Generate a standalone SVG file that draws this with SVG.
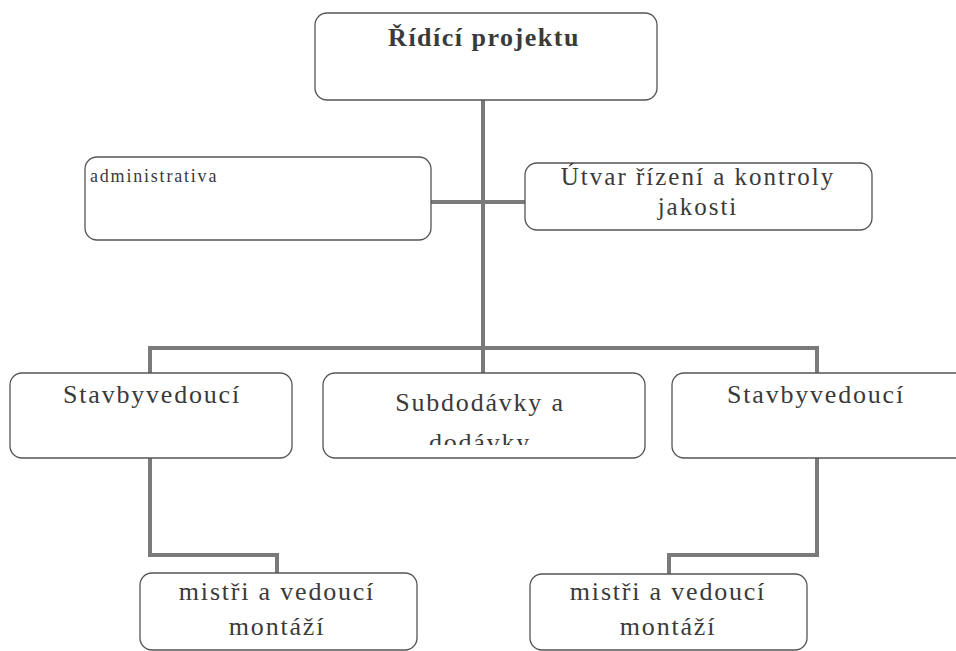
<svg xmlns="http://www.w3.org/2000/svg" width="956" height="651" viewBox="0 0 956 651">
<style>
.box{fill:#fff;stroke:#555;stroke-width:1.3;}
.t{font-family:"Liberation Serif","Times New Roman",serif;font-size:26px;fill:#3a3a3a;letter-spacing:1.8px;text-anchor:middle;}
.b{font-weight:bold;letter-spacing:1.5px;}
.s{font-size:18px;text-anchor:start;letter-spacing:1.8px;}
.u{font-size:25px;letter-spacing:2px;}
.c{fill:none;stroke:#7a7a7a;stroke-width:4;}
</style>
<defs>
<clipPath id="clipSub"><rect x="323" y="373" width="322" height="72"/></clipPath>
</defs>
<g id="connectors">
<path class="c" d="M483 100 V373"/>
<path class="c" d="M431 202 H525"/>
<path class="c" d="M150 373 V348 H817 V373"/>
<path class="c" d="M150 458 V555 H277 V573"/>
<path class="c" d="M817 458 V555 H669 V574"/>
</g>
<g id="n-ridici">
<rect class="box" x="315" y="13" width="342" height="87" rx="12"/>
<text class="t b" x="484" y="46">Řídící projektu</text>
</g>
<g id="n-admin">
<rect class="box" x="85" y="157" width="346" height="83" rx="12"/>
<text class="t s" x="90" y="182">administrativa</text>
</g>
<g id="n-utvar">
<rect class="box" x="525" y="163" width="347" height="67" rx="12"/>
<text class="t u" x="698" y="185">Útvar řízení a kontroly</text>
<text class="t u" x="698" y="215">jakosti</text>
</g>
<g id="n-stav1">
<rect class="box" x="10" y="373" width="282" height="85" rx="12"/>
<text class="t" x="152" y="403">Stavbyvedoucí</text>
</g>
<g id="n-subdod">
<rect class="box" x="323" y="373" width="322" height="85" rx="12"/>
<g clip-path="url(#clipSub)">
<text class="t" x="480" y="411">Subdodávky a</text>
<text class="t" x="480" y="451">dodávky</text>
</g>
</g>
<g id="n-stav2">
<rect class="box" x="672" y="373" width="310" height="85" rx="12"/>
<text class="t" x="816" y="403">Stavbyvedoucí</text>
</g>
<g id="n-mistri1">
<rect class="box" x="140" y="573" width="277" height="77" rx="12"/>
<text class="t" x="277" y="600">mistři a vedoucí</text>
<text class="t" x="277" y="635">montáží</text>
</g>
<g id="n-mistri2">
<rect class="box" x="530" y="574" width="277" height="76" rx="12"/>
<text class="t" x="668" y="600">mistři a vedoucí</text>
<text class="t" x="668" y="635">montáží</text>
</g>
</svg>
